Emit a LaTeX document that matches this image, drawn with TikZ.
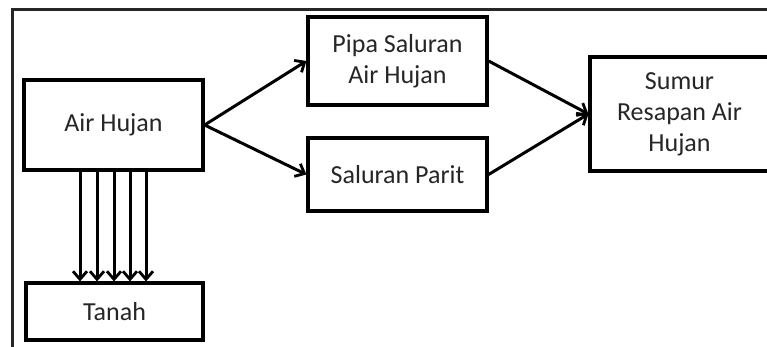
\documentclass[tikz,border=0pt]{standalone}
\usepackage{fontspec}
\setmainfont{Carlito}
\usetikzlibrary{arrows.meta}
\definecolor{txt}{HTML}{262626}
\begin{document}
\begin{tikzpicture}[x=1pt,y=-1pt,
  box/.style={draw=black,line width=3.2pt,fill=white,rectangle,inner sep=2pt,
    align=center,font=\fontsize{26}{31}\selectfont,text=txt},
  arr/.style={line width=3pt,-{Straight Barb[length=8pt,width=14pt,line width=2.8pt]}}]
\useasboundingbox (0,0) rectangle (767,347);
\clip (0,0) rectangle (767,347);
\fill[white] (0,0) rectangle (767,347);
\draw[line width=2.4pt,black!85] (12.5,347) -- (12.5,9.5) -- (770,9.5);
\node[box,minimum width=179pt,minimum height=90pt] (ah) at (113.5,125) {Air Hujan};
\node[box,minimum width=177pt,minimum height=57pt] (ta) at (114.5,311.5) {Tanah};
\node[box,minimum width=179pt,minimum height=88pt] (pp) at (397.5,61) {Pipa Saluran\\Air Hujan};
\node[box,minimum width=179pt,minimum height=73pt] (sp) at (397.5,174.5) {Saluran Parit};
\node[box,minimum width=179pt,minimum height=114pt] (sr) at (679.5,114) {Sumur\\Resapan Air\\Hujan};
\draw[arr] (ah.east) -- (pp.west);
\draw[arr] (ah.east) -- (sp.west);
\draw[arr] (pp.east) -- (sr.west);
\draw[arr] (sp.east) -- (sr.west);
\foreach \x in {80,97,114,130,146}
  \draw[arr] (\x,0 |- ah.south) -- (\x,0 |- ta.north);
\end{tikzpicture}
\end{document}
